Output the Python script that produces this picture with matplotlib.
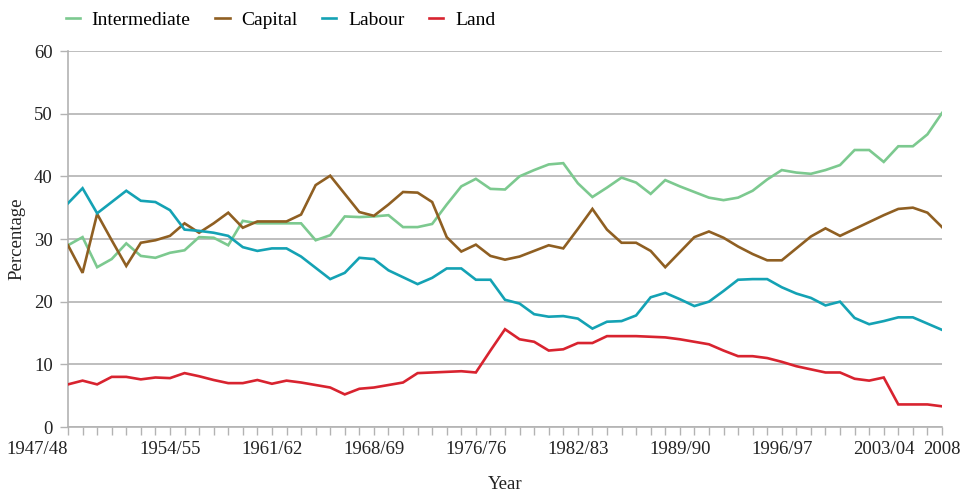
import matplotlib

matplotlib.use("Agg")
import matplotlib.pyplot as plt
import numpy as np

plt.rcParams["font.family"] = ["Liberation Serif", "DejaVu Serif"]

# yearly shares, 1947/48 .. 2008 (61 points)
intermediate = [
    29.0, 30.3, 25.5, 26.8, 29.3, 27.3, 27.0, 27.8, 28.2, 30.3,
    30.2, 29.0, 32.9, 32.5, 32.5, 32.5, 32.5, 29.8, 30.6, 33.6,
    33.5, 33.6, 33.8, 31.9, 31.9, 32.4, 35.5, 38.4, 39.6, 38.0,
    37.9, 40.0, 41.0, 41.9, 42.1, 38.9, 36.7, 38.2, 39.8, 39.0,
    37.2, 39.4, 38.4, 37.5, 36.6, 36.2, 36.6, 37.7, 39.5, 41.0,
    40.6, 40.4, 41.0, 41.8, 44.2, 44.2, 42.3, 44.8, 44.8, 46.7, 50.1,
]
capital = [
    29.0, 24.6, 34.0, 29.8, 25.7, 29.4, 29.8, 30.5, 32.5, 31.0,
    32.5, 34.2, 31.8, 32.8, 32.8, 32.8, 33.9, 38.6, 40.1, 37.2,
    34.3, 33.7, 35.5, 37.5, 37.4, 35.9, 30.3, 28.0, 29.1, 27.3,
    26.7, 27.2, 28.1, 29.0, 28.5, 31.6, 34.8, 31.5, 29.4, 29.4,
    28.1, 25.5, 27.9, 30.3, 31.2, 30.2, 28.8, 27.6, 26.6, 26.6,
    28.5, 30.4, 31.7, 30.5, 31.6, 32.7, 33.8, 34.8, 35.0, 34.2, 31.9,
]
labour = [
    35.7, 38.1, 34.1, 35.9, 37.7, 36.1, 35.9, 34.6, 31.5, 31.3,
    31.0, 30.5, 28.7, 28.1, 28.5, 28.5, 27.2, 25.4, 23.6, 24.6,
    27.0, 26.8, 25.0, 23.9, 22.8, 23.8, 25.3, 25.3, 23.5, 23.5,
    20.3, 19.7, 18.0, 17.6, 17.7, 17.3, 15.7, 16.8, 16.9, 17.8,
    20.7, 21.4, 20.4, 19.3, 20.0, 21.7, 23.5, 23.6, 23.6, 22.3,
    21.3, 20.6, 19.4, 20.0, 17.4, 16.4, 16.9, 17.5, 17.5, 16.5, 15.5,
]
land = [
    6.8, 7.4, 6.8, 8.0, 8.0, 7.6, 7.9, 7.8, 8.6, 8.1,
    7.5, 7.0, 7.0, 7.5, 6.9, 7.4, 7.1, 6.7, 6.3, 5.2,
    6.1, 6.3, 6.7, 7.1, 8.6, 8.7, 8.8, 8.9, 8.7, 12.2,
    15.6, 14.0, 13.6, 12.2, 12.4, 13.4, 13.4, 14.5, 14.5, 14.5,
    14.4, 14.3, 14.0, 13.6, 13.2, 12.2, 11.3, 11.3, 11.0, 10.4,
    9.7, 9.2, 8.7, 8.7, 7.7, 7.4, 7.9, 3.6, 3.6, 3.6, 3.3,
]

tick_pos = [0, 7, 14, 21, 28, 35, 42, 49, 56, 60]
tick_labels = ["1947/48", "1954/55", "1961/62", "1968/69", "1976/76",
               "1982/83", "1989/90", "1996/97", "2003/04", "2008"]

SERIES = [
    ("Intermediate", intermediate, "#7cc98f"),
    ("Capital", capital, "#8f5f22"),
    ("Labour", labour, "#14a2b4"),
    ("Land", land, "#d8232f"),
]
GRID = "#b3b3b3"
TEXT = "#222222"


def main() -> None:
    fig = plt.figure(figsize=(9.67, 4.93), dpi=100)
    ax = fig.add_axes([68 / 967, 66 / 493, 874 / 967, 376 / 493])

    x = np.arange(len(intermediate))
    for name, values, color in SERIES:
        ax.plot(x, values, color=color, linewidth=1.9, label=name,
                solid_joinstyle="miter", zorder=3)

    ax.set_xlim(0, len(intermediate) - 1)
    ax.set_ylim(0, 60)
    ax.set_yticks(range(0, 61, 10))
    ax.yaxis.grid(True, color=GRID, linewidth=1.2)
    ax.set_axisbelow(True)

    ax.set_xticks(tick_pos)
    ax.set_xticklabels(tick_labels)
    ax.set_xticks(x, minor=True)
    ax.tick_params(axis="x", which="both", length=6, width=1, color=GRID,
                   labelsize=13.5, pad=4, labelcolor=TEXT)
    ax.tick_params(axis="y", length=6, width=1, color=GRID,
                   labelsize=13.5, pad=5, labelcolor=TEXT)
    ax.get_xticklabels()[0].set_horizontalalignment("right")

    for side in ("top", "right"):
        ax.spines[side].set_visible(False)
    for side in ("left", "bottom"):
        ax.spines[side].set_color(GRID)
        ax.spines[side].set_linewidth(1.2)

    ax.set_xlabel("Year", fontsize=13.5, labelpad=13, color=TEXT)
    ax.set_ylabel("Percentage", fontsize=13.5, labelpad=6, color=TEXT)

    fig.legend(loc="upper left", bbox_to_anchor=(48 / 967, 1.012), ncol=4,
               frameon=False, handlelength=0.75, columnspacing=1.25,
               handletextpad=0.6, prop={"size": 14})

    fig.savefig("out.png", dpi=100)
    plt.close(fig)


if __name__ == "__main__":
    main()
